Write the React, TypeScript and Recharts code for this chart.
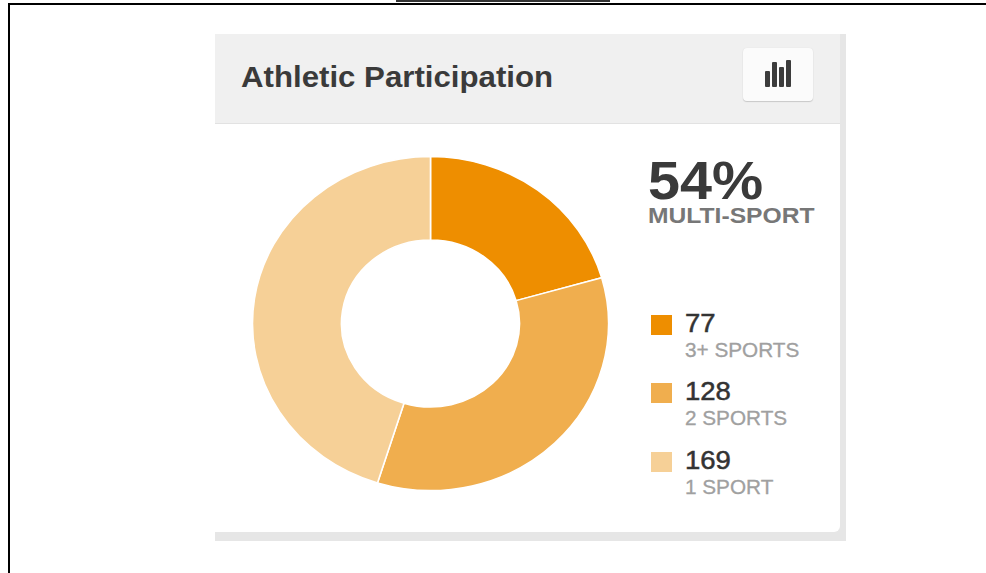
import React from "react";
import { PieChart, Pie, Cell } from "recharts";

const title = "Athletic Participation";
const headline = "54%";
const headlineSub = "MULTI-SPORT";
const values = [77, 128, 169];
const labels = ["3+ SPORTS", "2 SPORTS", "1 SPORT"];
const colors = ["#ee8e00", "#f0ae4e", "#f6d097"];
const barIcon = [
  { l: 22, t: 23, h: 16 },
  { l: 29, t: 14, h: 25 },
  { l: 36, t: 19, h: 20 },
  { l: 43, t: 12, h: 27 },
];
const data = values.map((value, i) => ({ name: labels[i], value }));
const FONT = '"Liberation Sans", Arial, sans-serif';
const stretch = (k: number): React.CSSProperties => ({ transform: `scaleX(${k})`, transformOrigin: "0 0", whiteSpace: "nowrap" });

export default function App() {
  return (
    <div style={{ position: "fixed", left: 0, top: 0, width: 986, height: 573, background: "#fff", overflow: "hidden", fontFamily: FONT }}>
      {/* page frame fragments */}
      <div style={{ position: "absolute", left: 8, top: 3, width: 978, height: 2, background: "#000" }} />
      <div style={{ position: "absolute", left: 8, top: 3, width: 2, height: 570, background: "#000" }} />
      <div style={{ position: "absolute", left: 396, top: 0, width: 214, height: 2, background: "#333" }} />

      {/* card shadow */}
      <div style={{ position: "absolute", left: 215, top: 34, width: 631, height: 507, background: "#e6e6e6" }} />
      {/* card */}
      <div style={{ position: "absolute", left: 215, top: 34, width: 625, height: 498, background: "#fff", borderBottomRightRadius: 6 }} />
      {/* header */}
      <div style={{ position: "absolute", left: 215, top: 34, width: 625, height: 89, background: "#f0f0f0", borderBottom: "1px solid #e2e2e2" }} />
      <div style={{ position: "absolute", left: 241, top: 59, fontSize: 29, fontWeight: 700, color: "#3a3a3a", lineHeight: "36px", ...stretch(1.076) }}>{title}</div>

      {/* button */}
      <div style={{ position: "absolute", left: 743, top: 48, width: 70, height: 53, background: "#fbfbfb", borderRadius: 4, boxShadow: "0 1px 1px #c8c8c8, 0 0 1px #d8d8d8" }}>
        {barIcon.map((b, i) => (
          <div key={i} style={{ position: "absolute", left: b.l, top: b.t, width: 5, height: b.h, background: "#3c3c3c", borderRadius: 1 }} />
        ))}
      </div>

      {/* donut: the reference is stretched horizontally, so scale the chart */}
      <div style={{ position: "absolute", left: 230, top: 128, width: 401, height: 391, transform: "scaleX(1.066)", transformOrigin: "200.5px 195.5px" }}>
        <PieChart width={401} height={391} margin={{ top: 0, right: 0, bottom: 0, left: 0 }}>
          <Pie
            data={data}
            dataKey="value"
            cx={200.5}
            cy={195.5}
            innerRadius={83.5}
            outerRadius={167}
            startAngle={90}
            endAngle={-270}
            stroke="#ffffff"
            strokeWidth={1.5}
            isAnimationActive={false}
          >
            {data.map((d, i) => (
              <Cell key={d.name} fill={colors[i]} />
            ))}
          </Pie>
        </PieChart>
      </div>

      {/* headline */}
      <div style={{ position: "absolute", left: 648, top: 156, fontSize: 53, fontWeight: 700, color: "#3a3a3a", lineHeight: "50px", ...stretch(1.085) }}>{headline}</div>
      <div style={{ position: "absolute", left: 648, top: 205, fontSize: 22, fontWeight: 700, color: "#777", lineHeight: "22px", ...stretch(1.12) }}>{headlineSub}</div>

      {/* legend */}
      {values.map((v, i) => (
        <React.Fragment key={labels[i]}>
          <div style={{ position: "absolute", left: 651, top: 315 + i * 68.4, width: 21, height: 20, background: colors[i] }} />
          <div style={{ position: "absolute", left: 685, top: 308 + i * 68.4, fontSize: 25, color: "#333", lineHeight: "30px", WebkitTextStroke: "0.5px #333", ...stretch(1.1) }}>{v}</div>
          <div style={{ position: "absolute", left: 685, top: 337 + i * 68.4, fontSize: 20, color: "#a0a0a0", lineHeight: "26px", WebkitTextStroke: "0.3px #a0a0a0", ...stretch(1.036) }}>{labels[i]}</div>
        </React.Fragment>
      ))}
    </div>
  );
}
